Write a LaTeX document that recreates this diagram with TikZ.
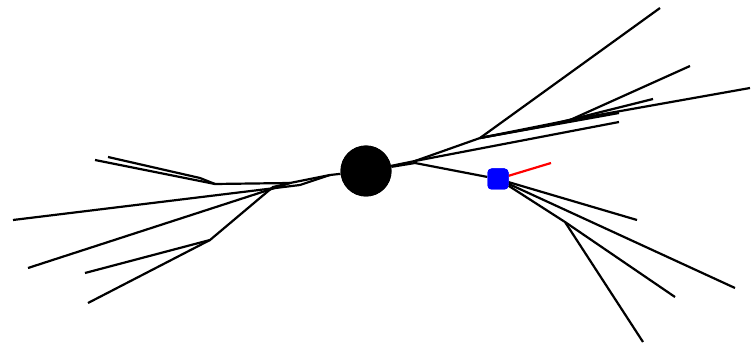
\documentclass[tikz,border=0pt]{standalone}
\begin{document}
\begin{tikzpicture}[x=1pt,y=-1pt,
  edge/.style={draw=black,line width=2.2pt},
  redge/.style={draw=red,line width=2.2pt},
  hub/.style={circle,fill=black,minimum size=51pt,inner sep=0pt},
  bluebox/.style={fill=blue,minimum size=21pt,inner sep=0pt,rounded corners=4pt}]
\useasboundingbox (0,0) rectangle (751,347);
\node[hub] (c) at (366,171) {};
\node[bluebox] (b) at (498,179) {};
% left coordinates
\coordinate (l0) at (330,175);
\coordinate (l1) at (290,183);
\coordinate (l2) at (273,187);
\coordinate (l3) at (215,184);
\coordinate (l4) at (210,240);
\coordinate (e1) at (95,160);
\coordinate (e2) at (108,157);
\coordinate (e3) at (13,220);
\coordinate (e4) at (28,268);
\coordinate (e5) at (85,273);
\coordinate (e6) at (88,303);
% right top
\coordinate (r0) at (415,161);
\coordinate (r1) at (480,138);
\coordinate (r2) at (570,120);
\coordinate (r3) at (545,126);
\coordinate (t1) at (660,8);
\coordinate (t2) at (690,66);
\coordinate (t3) at (750,88);
\coordinate (t4) at (653,99);
\coordinate (t5) at (619,122);
\coordinate (t6) at (619,113);
% right bottom
\coordinate (m0) at (415,163);
\coordinate (s0) at (565,222);
\coordinate (u1) at (637,220);
\coordinate (u2) at (735,288);
\coordinate (u3) at (675,297);
\coordinate (u4) at (643,342);
\coordinate (rd) at (551,163);
% left edges
\draw[edge] (c) -- (l0) -- (l1) -- (l3) -- (e1);
\draw[edge] (l3) -- (200,178) -- (e2);
\draw[edge] (l0) -- (300,185) -- (e3);
\draw[edge] (l1) -- (e4);
\draw[edge] (l1) -- (l2) -- (l4) -- (e5);
\draw[edge] (l4) -- (e6);
% right top
\draw[edge] (c) -- (r0) -- (r1) -- (t1);
\draw[edge] (r1) -- (r2) -- (t2);
\draw[edge] (r2) -- (t3);
\draw[edge] (r1) -- (r3) -- (t4);
\draw[edge] (r0) -- (t5);
\draw[edge] (r1) -- (t6);
% right bottom
\draw[edge] (c) -- (m0) -- (b);
\draw[edge] (b) -- (u1);
\draw[edge] (b) -- (u2);
\draw[edge] (b) -- (s0) -- (u3);
\draw[edge] (s0) -- (u4);
\draw[redge] (b) -- (rd);
\node[bluebox] at (b) {};
\node[hub] at (c) {};
\end{tikzpicture}
\end{document}
